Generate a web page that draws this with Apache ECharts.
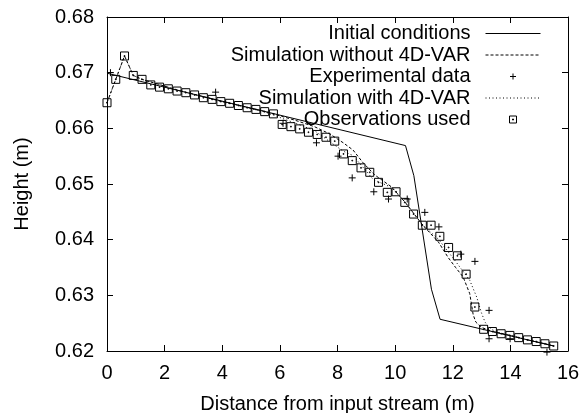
<!DOCTYPE html>
<html>
<head>
<meta charset="utf-8">
<script src="https://cdn.jsdelivr.net/npm/echarts@6/dist/echarts.min.js"></script>
<style>
html,body{margin:0;padding:0;background:#fff;}
#chart{width:582px;height:413px;}
</style>
</head>
<body>
<div id="chart"></div>
<script>
// ---- data (x in m, height in m) ----
const xTicks = [0, 2, 4, 6, 8, 10, 12, 14, 16];
const yTicks = [0.62, 0.63, 0.64, 0.65, 0.66, 0.67, 0.68];

const initialConditions = [
  [0, 0.6699], [10.36, 0.6569], [10.65, 0.6515], [11.26, 0.6311], [11.56, 0.6257], [15.5, 0.6209]
];

const simWithout4DVAR = [
  [0, 0.6646], [0.304, 0.6688], [0.608, 0.6730], [0.912, 0.6695], [1.216, 0.6688], [2.5, 0.6668],
  [4, 0.6648], [5.5, 0.6630], [6.5, 0.6615], [7.2, 0.6603], [7.73, 0.6590], [8.2, 0.6574],
  [8.54, 0.6561], [8.89, 0.6538], [9.3, 0.6516], [9.87, 0.6495], [10.35, 0.6467], [10.96, 0.6426],
  [11.5, 0.6396], [11.84, 0.6368], [12.1, 0.6350], [12.36, 0.6333], [12.59, 0.6303], [12.71, 0.6265],
  [12.8, 0.6252], [12.92, 0.6246], [13.07, 0.6241], [13.38, 0.6235], [14, 0.6228], [14.6, 0.6220],
  [15.2, 0.6213], [15.5, 0.6209]
];

const simWith4DVAR = [
  [0, 0.6646], [0.304, 0.6688], [0.608, 0.6730], [0.912, 0.6695], [1.216, 0.6688], [2.5, 0.6668],
  [4, 0.6648], [5.5, 0.6629], [6.5, 0.6610], [7.2, 0.6596], [7.73, 0.6576], [8.2, 0.6559],
  [8.54, 0.6551], [9.0, 0.6523], [9.24, 0.6508], [9.87, 0.6494], [10.35, 0.6467], [10.96, 0.6426],
  [11.5, 0.6401], [12.07, 0.6363], [12.59, 0.6327], [12.83, 0.6297], [13.0, 0.6268], [13.12, 0.6252],
  [13.23, 0.6244], [13.5, 0.6234], [14, 0.6228], [14.6, 0.6220], [15.2, 0.6213], [15.5, 0.6209]
];

const experimentalData = [
  [0.12, 0.6700], [3.77, 0.6665], [6.11, 0.6609], [7.27, 0.6574], [8.02, 0.6550], [8.51, 0.6511],
  [9.26, 0.6486], [9.77, 0.6473], [10.42, 0.6473], [11.03, 0.6449], [11.52, 0.6423], [12.28, 0.6374],
  [12.77, 0.6361], [13.26, 0.6273], [13.26, 0.6222], [13.99, 0.6222], [15.27, 0.6198]
];

const observationsUsed = [
  [0.000, 0.6646], [0.304, 0.6688], [0.608, 0.6730], [0.912, 0.6695], [1.216, 0.6688], [1.520, 0.6678],
  [1.824, 0.6674], [2.128, 0.6671], [2.432, 0.6667], [2.736, 0.6664], [3.040, 0.6660], [3.344, 0.6655],
  [3.648, 0.6652], [3.952, 0.6648], [4.256, 0.6645], [4.560, 0.6641], [4.864, 0.6637], [5.168, 0.6634],
  [5.472, 0.6630], [5.776, 0.6626], [6.080, 0.6607], [6.384, 0.6603], [6.688, 0.6599], [6.992, 0.6593],
  [7.296, 0.6589], [7.600, 0.6584], [7.904, 0.6577], [8.208, 0.6554], [8.512, 0.6542], [8.816, 0.6529],
  [9.120, 0.6521], [9.424, 0.6503], [9.728, 0.6485], [10.032, 0.6486], [10.336, 0.6467], [10.640, 0.6446],
  [10.944, 0.6426], [11.248, 0.6426], [11.552, 0.6406], [11.856, 0.6386], [12.160, 0.6371], [12.464, 0.6338],
  [12.768, 0.6279], [13.072, 0.6239], [13.376, 0.6235], [13.680, 0.6231], [13.984, 0.6228], [14.288, 0.6224],
  [14.592, 0.6220], [14.896, 0.6217], [15.200, 0.6213], [15.504, 0.6209]
];

// ---- styling ----
const FONT = "'Liberation Sans', Arial, Helvetica, sans-serif";
const plusPath = 'path://M0,5L10,5M5,0L5,10';
const boxPath = 'path://M0,0L10,0L10,10L0,10Z M4.5,4.5L5.5,4.5L5.5,5.5L4.5,5.5Z';
const plusLegend = 'path://M0,0M14,14M4,7L10,7M7,4L7,10';
const boxLegend = 'path://M0,0M14,14M3.5,3.5L10.5,3.5L10.5,10.5L3.5,10.5Z M6.5,6.5L7.5,6.5L7.5,7.5L6.5,7.5Z';
const lineLegend = 'path://M0,0M55,14M0,7L55,7';

const axisCommon = {
  axisLine: { onZero: false, lineStyle: { color: '#000', width: 1 } },
  axisTick: { inside: true, length: 6, lineStyle: { color: '#000', width: 1 } },
  splitLine: { show: false }
};

const chart = echarts.init(document.getElementById('chart'), null, { renderer: 'canvas' });
chart.setOption({
  animation: false,
  backgroundColor: '#fff',
  grid: { left: 107, right: 14, top: 17, bottom: 62, containLabel: false, outerBoundsMode: 'none' },
  xAxis: [
    Object.assign({
      type: 'value', min: xTicks[0], max: xTicks[xTicks.length - 1], interval: 2, position: 'bottom',
      axisLabel: { fontSize: 20, color: '#000', fontFamily: FONT, margin: 12 },
      name: 'Distance from input stream (m)', nameLocation: 'middle', nameGap: 43,
      nameTextStyle: { fontSize: 20, color: '#000', fontFamily: FONT }
    }, axisCommon),
    Object.assign({
      type: 'value', min: xTicks[0], max: xTicks[xTicks.length - 1], interval: 2, position: 'top',
      axisLabel: { show: false }
    }, axisCommon)
  ],
  yAxis: [
    Object.assign({
      type: 'value', min: yTicks[0], max: yTicks[yTicks.length - 1], interval: 0.01, position: 'left',
      axisLabel: { fontSize: 20, color: '#000', fontFamily: FONT, margin: 13, formatter: v => v.toFixed(2) },
      name: 'Height (m)', nameLocation: 'middle', nameGap: 75, nameRotate: 90,
      nameTextStyle: { fontSize: 20, color: '#000', fontFamily: FONT }
    }, axisCommon),
    Object.assign({
      type: 'value', min: yTicks[0], max: yTicks[yTicks.length - 1], interval: 0.01, position: 'right',
      axisLabel: { show: false }
    }, axisCommon)
  ],
  legend: {
    orient: 'vertical', right: 39, top: 23, align: 'right',
    itemWidth: 55, itemHeight: 14, itemGap: 0.5, padding: 0, selectedMode: false,
    textStyle: { fontSize: 20, color: '#000', fontFamily: FONT, lineHeight: 21, padding: [0, 10, 0, 0] },
    lineStyle: { width: 1 },
    itemStyle: { borderWidth: 1 },
    data: [
      { name: 'Initial conditions', icon: lineLegend,
        itemStyle: { color: 'none', borderColor: '#000', borderWidth: 1, borderType: 'solid' } },
      { name: 'Simulation without 4D-VAR', icon: lineLegend,
        itemStyle: { color: 'none', borderColor: '#000', borderWidth: 1, borderType: [3, 2] } },
      { name: 'Experimental data', icon: plusLegend },
      { name: 'Simulation with 4D-VAR', icon: lineLegend,
        itemStyle: { color: 'none', borderColor: '#000', borderWidth: 1, borderType: [1, 2.5] } },
      { name: 'Observations used', icon: boxLegend }
    ]
  },
  series: [
    {
      name: 'Initial conditions', type: 'line', data: initialConditions, symbol: 'none',
      lineStyle: { color: '#000', width: 1, type: 'solid' }, itemStyle: { color: '#000' }
    },
    {
      name: 'Simulation without 4D-VAR', type: 'line', data: simWithout4DVAR, symbol: 'none',
      lineStyle: { color: '#000', width: 1, type: [3, 2] }, itemStyle: { color: '#000' }
    },
    {
      name: 'Experimental data', type: 'scatter', data: experimentalData, symbol: plusPath, symbolSize: 7,
      clip: false, itemStyle: { color: 'transparent', borderColor: '#000', borderWidth: 1, opacity: 1 }
    },
    {
      name: 'Simulation with 4D-VAR', type: 'line', data: simWith4DVAR, symbol: 'none',
      lineStyle: { color: '#000', width: 1, type: [1, 2.5] }, itemStyle: { color: '#000' }
    },
    {
      name: 'Observations used', type: 'scatter', data: observationsUsed, symbol: boxPath, symbolSize: 8,
      clip: false, itemStyle: { color: 'transparent', borderColor: '#000', borderWidth: 1, opacity: 1 }
    }
  ]
});
</script>
</body>
</html>
